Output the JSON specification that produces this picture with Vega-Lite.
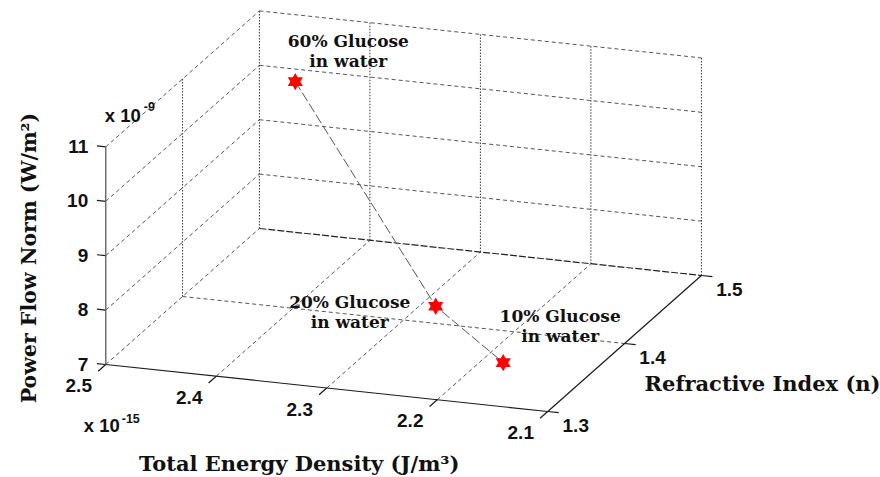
{
  "$schema": "https://vega.github.io/schema/vega-lite/v6.json",
  "width": 880,
  "height": 477,
  "autosize": {"type": "fit", "contains": "padding"},
  "padding": 0,
  "background": "white",
  "config": {"view": {"stroke": null}},
  "datasets": {
    "segments": [
      {"seg": "E axis", "kind": "axis", "E": 2.5, "n": 1.3, "P": 7, "E2": 2.1, "n2": 1.3, "P2": 7},
      {"seg": "n axis", "kind": "axis", "E": 2.1, "n": 1.3, "P": 7, "E2": 2.1, "n2": 1.5, "P2": 7},
      {"seg": "P axis", "kind": "paxis", "E": 2.5, "n": 1.3, "P": 7, "E2": 2.5, "n2": 1.3, "P2": 11},
      {"seg": "E tick 2.5", "kind": "tick", "E": 2.5, "n": 1.3, "P": 7, "E2": 2.5, "n2": 1.29, "P2": 7},
      {"seg": "E tick 2.4", "kind": "tick", "E": 2.4, "n": 1.3, "P": 7, "E2": 2.4, "n2": 1.29, "P2": 7},
      {"seg": "E tick 2.3", "kind": "tick", "E": 2.3, "n": 1.3, "P": 7, "E2": 2.3, "n2": 1.29, "P2": 7},
      {"seg": "E tick 2.2", "kind": "tick", "E": 2.2, "n": 1.3, "P": 7, "E2": 2.2, "n2": 1.29, "P2": 7},
      {"seg": "E tick 2.1", "kind": "tick", "E": 2.1, "n": 1.3, "P": 7, "E2": 2.1, "n2": 1.29, "P2": 7},
      {"seg": "n tick 1.3", "kind": "tick", "E": 2.1, "n": 1.3, "P": 7, "E2": 2.09, "n2": 1.3, "P2": 7},
      {"seg": "n tick 1.4", "kind": "tick", "E": 2.1, "n": 1.4, "P": 7, "E2": 2.09, "n2": 1.4, "P2": 7},
      {"seg": "n tick 1.5", "kind": "tick", "E": 2.1, "n": 1.5, "P": 7, "E2": 2.09, "n2": 1.5, "P2": 7},
      {"seg": "P tick 7", "kind": "tick", "E": 2.5, "n": 1.3, "P": 7, "E2": 2.508, "n2": 1.3, "P2": 7},
      {"seg": "P tick 8", "kind": "tick", "E": 2.5, "n": 1.3, "P": 8, "E2": 2.508, "n2": 1.3, "P2": 8},
      {"seg": "P tick 9", "kind": "tick", "E": 2.5, "n": 1.3, "P": 9, "E2": 2.508, "n2": 1.3, "P2": 9},
      {"seg": "P tick 10", "kind": "tick", "E": 2.5, "n": 1.3, "P": 10, "E2": 2.508, "n2": 1.3, "P2": 10},
      {"seg": "P tick 11", "kind": "tick", "E": 2.5, "n": 1.3, "P": 11, "E2": 2.508, "n2": 1.3, "P2": 11},
      {"seg": "floor back edge", "kind": "edge", "E": 2.5, "n": 1.5, "P": 7, "E2": 2.1, "n2": 1.5, "P2": 7},
      {"seg": "floor left edge", "kind": "dash", "E": 2.5, "n": 1.3, "P": 7, "E2": 2.5, "n2": 1.5, "P2": 7},
      {"seg": "floor E 2.4", "kind": "dash", "E": 2.4, "n": 1.3, "P": 7, "E2": 2.4, "n2": 1.5, "P2": 7},
      {"seg": "floor E 2.3", "kind": "dash", "E": 2.3, "n": 1.3, "P": 7, "E2": 2.3, "n2": 1.5, "P2": 7},
      {"seg": "floor E 2.2", "kind": "dash", "E": 2.2, "n": 1.3, "P": 7, "E2": 2.2, "n2": 1.5, "P2": 7},
      {"seg": "floor n 1.4", "kind": "dash", "E": 2.5, "n": 1.4, "P": 7, "E2": 2.1, "n2": 1.4, "P2": 7},
      {"seg": "back P 8", "kind": "dash", "E": 2.5, "n": 1.5, "P": 8, "E2": 2.1, "n2": 1.5, "P2": 8},
      {"seg": "back P 9", "kind": "dash", "E": 2.5, "n": 1.5, "P": 9, "E2": 2.1, "n2": 1.5, "P2": 9},
      {"seg": "back P 10", "kind": "dash", "E": 2.5, "n": 1.5, "P": 10, "E2": 2.1, "n2": 1.5, "P2": 10},
      {"seg": "back P 11", "kind": "dash", "E": 2.5, "n": 1.5, "P": 11, "E2": 2.1, "n2": 1.5, "P2": 11},
      {"seg": "left P 8", "kind": "dash", "E": 2.5, "n": 1.3, "P": 8, "E2": 2.5, "n2": 1.5, "P2": 8},
      {"seg": "left P 9", "kind": "dash", "E": 2.5, "n": 1.3, "P": 9, "E2": 2.5, "n2": 1.5, "P2": 9},
      {"seg": "left P 10", "kind": "dash", "E": 2.5, "n": 1.3, "P": 10, "E2": 2.5, "n2": 1.5, "P2": 10},
      {"seg": "left P 11", "kind": "dash", "E": 2.5, "n": 1.3, "P": 11, "E2": 2.5, "n2": 1.5, "P2": 11},
      {"seg": "back vertical 2.5", "kind": "dot", "E": 2.5, "n": 1.5, "P": 7, "E2": 2.5, "n2": 1.5, "P2": 11},
      {"seg": "back vertical 2.4", "kind": "dot", "E": 2.4, "n": 1.5, "P": 7, "E2": 2.4, "n2": 1.5, "P2": 11},
      {"seg": "back vertical 2.3", "kind": "dot", "E": 2.3, "n": 1.5, "P": 7, "E2": 2.3, "n2": 1.5, "P2": 11},
      {"seg": "back vertical 2.2", "kind": "dot", "E": 2.2, "n": 1.5, "P": 7, "E2": 2.2, "n2": 1.5, "P2": 11},
      {"seg": "back vertical 2.1", "kind": "dot", "E": 2.1, "n": 1.5, "P": 7, "E2": 2.1, "n2": 1.5, "P2": 11},
      {"seg": "left vertical 1.4", "kind": "dot", "E": 2.5, "n": 1.4, "P": 7, "E2": 2.5, "n2": 1.4, "P2": 11}
    ],
    "points": [
      {"solution": "60%", "label": "60% Glucose\nin water", "E": 2.4258, "n": 1.44, "P": 10.61, "order": 1},
      {"solution": "20%", "label": "20% Glucose\nin water", "E": 2.2459, "n": 1.364, "P": 7.82, "order": 2},
      {"solution": "10%", "label": "10% Glucose\nin water", "E": 2.1737, "n": 1.348, "P": 7.14, "order": 3}
    ],
    "ticklabels": [
      {"axis": "E", "E": 2.5, "n": 1.3, "P": 7, "label": "2.5"},
      {"axis": "E", "E": 2.4, "n": 1.3, "P": 7, "label": "2.4"},
      {"axis": "E", "E": 2.3, "n": 1.3, "P": 7, "label": "2.3"},
      {"axis": "E", "E": 2.2, "n": 1.3, "P": 7, "label": "2.2"},
      {"axis": "E", "E": 2.1, "n": 1.3, "P": 7, "label": "2.1"},
      {"axis": "n", "E": 2.1, "n": 1.3, "P": 7, "label": "1.3"},
      {"axis": "n", "E": 2.1, "n": 1.4, "P": 7, "label": "1.4"},
      {"axis": "n", "E": 2.1, "n": 1.5, "P": 7, "label": "1.5"},
      {"axis": "P", "E": 2.5, "n": 1.3, "P": 7, "label": "7"},
      {"axis": "P", "E": 2.5, "n": 1.3, "P": 8, "label": "8"},
      {"axis": "P", "E": 2.5, "n": 1.3, "P": 9, "label": "9"},
      {"axis": "P", "E": 2.5, "n": 1.3, "P": 10, "label": "10"},
      {"axis": "P", "E": 2.5, "n": 1.3, "P": 11, "label": "11"}
    ],
    "multipliers": [
      {"axis": "P", "E": 2.5, "n": 1.3, "P": 11.55, "base": "x 10", "exp": "-9"},
      {"axis": "E", "E": 2.5, "n": 1.3, "P": 7, "base": "x 10", "exp": "-15"}
    ],
    "titles": [
      {"axis": "E", "E": 2.3, "n": 1.3, "P": 7, "title": "Total Energy Density (J/m³)"},
      {"axis": "n", "E": 2.1, "n": 1.4, "P": 7, "title": "Refractive Index (n)"},
      {"axis": "P", "E": 2.5, "n": 1.3, "P": 9, "title": "Power Flow Norm (W/m²)"}
    ]
  },
  "layer": [
    {
      "data": {"name": "segments"},
      "transform": [
        {"filter": "datum.kind === 'dash'"},
        {"calculate": "106 + 1107.5*(2.5-datum.E) + 770*(datum.n-1.3)", "as": "sx"},
        {"calculate": "364.5 + 117.5*(2.5-datum.E) - 680*(datum.n-1.3) - 54.4*(datum.P-7)", "as": "sy"},
        {"calculate": "106 + 1107.5*(2.5-datum.E2) + 770*(datum.n2-1.3)", "as": "sx2"},
        {"calculate": "364.5 + 117.5*(2.5-datum.E2) - 680*(datum.n2-1.3) - 54.4*(datum.P2-7)", "as": "sy2"}
      ],
      "mark": {"type": "rule", "color": "#555555", "strokeWidth": 1, "strokeDash": [4, 3]},
      "encoding": {
        "x": {"field": "sx", "type": "quantitative", "scale": {"domain": [0, 880], "nice": false, "zero": false}, "axis": null},
        "y": {"field": "sy", "type": "quantitative", "scale": {"domain": [0, 477], "nice": false, "zero": false, "reverse": true}, "axis": null},
        "x2": {"field": "sx2"},
        "y2": {"field": "sy2"}
      }
    },
    {
      "data": {"name": "segments"},
      "transform": [
        {"filter": "datum.kind === 'edge'"},
        {"calculate": "106 + 1107.5*(2.5-datum.E) + 770*(datum.n-1.3)", "as": "sx"},
        {"calculate": "364.5 + 117.5*(2.5-datum.E) - 680*(datum.n-1.3) - 54.4*(datum.P-7)", "as": "sy"},
        {"calculate": "106 + 1107.5*(2.5-datum.E2) + 770*(datum.n2-1.3)", "as": "sx2"},
        {"calculate": "364.5 + 117.5*(2.5-datum.E2) - 680*(datum.n2-1.3) - 54.4*(datum.P2-7)", "as": "sy2"}
      ],
      "mark": {"type": "rule", "color": "#222222", "strokeWidth": 1.2, "strokeDash": [7, 2]},
      "encoding": {
        "x": {"field": "sx", "type": "quantitative", "scale": {"domain": [0, 880], "nice": false, "zero": false}, "axis": null},
        "y": {"field": "sy", "type": "quantitative", "scale": {"domain": [0, 477], "nice": false, "zero": false, "reverse": true}, "axis": null},
        "x2": {"field": "sx2"},
        "y2": {"field": "sy2"}
      }
    },
    {
      "data": {"name": "segments"},
      "transform": [
        {"filter": "datum.kind === 'dot'"},
        {"calculate": "106 + 1107.5*(2.5-datum.E) + 770*(datum.n-1.3)", "as": "sx"},
        {"calculate": "364.5 + 117.5*(2.5-datum.E) - 680*(datum.n-1.3) - 54.4*(datum.P-7)", "as": "sy"},
        {"calculate": "106 + 1107.5*(2.5-datum.E2) + 770*(datum.n2-1.3)", "as": "sx2"},
        {"calculate": "364.5 + 117.5*(2.5-datum.E2) - 680*(datum.n2-1.3) - 54.4*(datum.P2-7)", "as": "sy2"}
      ],
      "mark": {"type": "rule", "color": "#333333", "strokeWidth": 1, "strokeDash": [1.5, 1.5]},
      "encoding": {
        "x": {"field": "sx", "type": "quantitative", "scale": {"domain": [0, 880], "nice": false, "zero": false}, "axis": null},
        "y": {"field": "sy", "type": "quantitative", "scale": {"domain": [0, 477], "nice": false, "zero": false, "reverse": true}, "axis": null},
        "x2": {"field": "sx2"},
        "y2": {"field": "sy2"}
      }
    },
    {
      "data": {"name": "segments"},
      "transform": [
        {"filter": "datum.kind === 'axis' || datum.kind === 'tick'"},
        {"calculate": "106 + 1107.5*(2.5-datum.E) + 770*(datum.n-1.3)", "as": "sx"},
        {"calculate": "364.5 + 117.5*(2.5-datum.E) - 680*(datum.n-1.3) - 54.4*(datum.P-7)", "as": "sy"},
        {"calculate": "106 + 1107.5*(2.5-datum.E2) + 770*(datum.n2-1.3)", "as": "sx2"},
        {"calculate": "364.5 + 117.5*(2.5-datum.E2) - 680*(datum.n2-1.3) - 54.4*(datum.P2-7)", "as": "sy2"}
      ],
      "mark": {"type": "rule", "color": "#1a1a1a", "strokeWidth": 1.2},
      "encoding": {
        "x": {"field": "sx", "type": "quantitative", "scale": {"domain": [0, 880], "nice": false, "zero": false}, "axis": null},
        "y": {"field": "sy", "type": "quantitative", "scale": {"domain": [0, 477], "nice": false, "zero": false, "reverse": true}, "axis": null},
        "x2": {"field": "sx2"},
        "y2": {"field": "sy2"}
      }
    },
    {
      "data": {"name": "segments"},
      "transform": [
        {"filter": "datum.kind === 'paxis'"},
        {"calculate": "106 + 1107.5*(2.5-datum.E) + 770*(datum.n-1.3)", "as": "sx"},
        {"calculate": "364.5 + 117.5*(2.5-datum.E) - 680*(datum.n-1.3) - 54.4*(datum.P-7)", "as": "sy"},
        {"calculate": "106 + 1107.5*(2.5-datum.E2) + 770*(datum.n2-1.3)", "as": "sx2"},
        {"calculate": "364.5 + 117.5*(2.5-datum.E2) - 680*(datum.n2-1.3) - 54.4*(datum.P2-7)", "as": "sy2"}
      ],
      "mark": {"type": "rule", "color": "#666666", "strokeWidth": 1.4},
      "encoding": {
        "x": {"field": "sx", "type": "quantitative", "scale": {"domain": [0, 880], "nice": false, "zero": false}, "axis": null},
        "y": {"field": "sy", "type": "quantitative", "scale": {"domain": [0, 477], "nice": false, "zero": false, "reverse": true}, "axis": null},
        "x2": {"field": "sx2"},
        "y2": {"field": "sy2"}
      }
    },
    {
      "data": {"name": "points"},
      "transform": [
        {"calculate": "106 + 1107.5*(2.5-datum.E) + 770*(datum.n-1.3)", "as": "sx"},
        {"calculate": "364.5 + 117.5*(2.5-datum.E) - 680*(datum.n-1.3) - 54.4*(datum.P-7)", "as": "sy"}
      ],
      "mark": {"type": "line", "color": "#555555", "strokeWidth": 1, "strokeDash": [10, 3]},
      "encoding": {
        "x": {"field": "sx", "type": "quantitative", "scale": {"domain": [0, 880], "nice": false, "zero": false}, "axis": null},
        "y": {"field": "sy", "type": "quantitative", "scale": {"domain": [0, 477], "nice": false, "zero": false, "reverse": true}, "axis": null},
        "order": {"field": "order", "type": "quantitative"}
      }
    },
    {
      "data": {"name": "points"},
      "transform": [
        {"calculate": "106 + 1107.5*(2.5-datum.E) + 770*(datum.n-1.3)", "as": "sx"},
        {"calculate": "364.5 + 117.5*(2.5-datum.E) - 680*(datum.n-1.3) - 54.4*(datum.P-7)", "as": "sy"}
      ],
      "mark": {"type": "point", "shape": "M0,-1L0.866,0.5L-0.866,0.5Z M0,1L-0.866,-0.5L0.866,-0.5Z", "filled": true, "color": "#ff0000", "size": 300, "opacity": 1, "strokeWidth": 0},
      "encoding": {
        "x": {"field": "sx", "type": "quantitative", "scale": {"domain": [0, 880], "nice": false, "zero": false}, "axis": null},
        "y": {"field": "sy", "type": "quantitative", "scale": {"domain": [0, 477], "nice": false, "zero": false, "reverse": true}, "axis": null}
      }
    },
    {
      "data": {"name": "points"},
      "transform": [
        {"filter": "datum.solution === '60%'"},
        {"calculate": "106 + 1107.5*(2.5-datum.E) + 770*(datum.n-1.3)", "as": "sx"},
        {"calculate": "364.5 + 117.5*(2.5-datum.E) - 680*(datum.n-1.3) - 54.4*(datum.P-7)", "as": "sy"}
      ],
      "mark": {"type": "text", "font": "DejaVu Serif", "fontWeight": "bold", "fontSize": 17, "color": "#111111", "align": "center", "baseline": "middle", "lineBreak": "\n", "lineHeight": 20, "dx": 53, "dy": -40},
      "encoding": {
        "x": {"field": "sx", "type": "quantitative", "scale": {"domain": [0, 880], "nice": false, "zero": false}, "axis": null},
        "y": {"field": "sy", "type": "quantitative", "scale": {"domain": [0, 477], "nice": false, "zero": false, "reverse": true}, "axis": null},
        "text": {"field": "label"}
      }
    },
    {
      "data": {"name": "points"},
      "transform": [
        {"filter": "datum.solution === '20%'"},
        {"calculate": "106 + 1107.5*(2.5-datum.E) + 770*(datum.n-1.3)", "as": "sx"},
        {"calculate": "364.5 + 117.5*(2.5-datum.E) - 680*(datum.n-1.3) - 54.4*(datum.P-7)", "as": "sy"}
      ],
      "mark": {"type": "text", "font": "DejaVu Serif", "fontWeight": "bold", "fontSize": 17, "color": "#111111", "align": "center", "baseline": "middle", "lineBreak": "\n", "lineHeight": 20, "dx": -86, "dy": -3.3},
      "encoding": {
        "x": {"field": "sx", "type": "quantitative", "scale": {"domain": [0, 880], "nice": false, "zero": false}, "axis": null},
        "y": {"field": "sy", "type": "quantitative", "scale": {"domain": [0, 477], "nice": false, "zero": false, "reverse": true}, "axis": null},
        "text": {"field": "label"}
      }
    },
    {
      "data": {"name": "points"},
      "transform": [
        {"filter": "datum.solution === '10%'"},
        {"calculate": "106 + 1107.5*(2.5-datum.E) + 770*(datum.n-1.3)", "as": "sx"},
        {"calculate": "364.5 + 117.5*(2.5-datum.E) - 680*(datum.n-1.3) - 54.4*(datum.P-7)", "as": "sy"}
      ],
      "mark": {"type": "text", "font": "DejaVu Serif", "fontWeight": "bold", "fontSize": 17, "color": "#111111", "align": "center", "baseline": "middle", "lineBreak": "\n", "lineHeight": 20, "dx": 57, "dy": -46},
      "encoding": {
        "x": {"field": "sx", "type": "quantitative", "scale": {"domain": [0, 880], "nice": false, "zero": false}, "axis": null},
        "y": {"field": "sy", "type": "quantitative", "scale": {"domain": [0, 477], "nice": false, "zero": false, "reverse": true}, "axis": null},
        "text": {"field": "label"}
      }
    },
    {
      "data": {"name": "ticklabels"},
      "transform": [
        {"filter": "datum.axis === 'E'"},
        {"calculate": "106 + 1107.5*(2.5-datum.E) + 770*(datum.n-1.3)", "as": "sx"},
        {"calculate": "364.5 + 117.5*(2.5-datum.E) - 680*(datum.n-1.3) - 54.4*(datum.P-7)", "as": "sy"}
      ],
      "mark": {"type": "text", "font": "Liberation Sans", "fontWeight": "bold", "fontSize": 19, "color": "#111111", "align": "center", "baseline": "middle", "dx": -27, "dy": 21.7},
      "encoding": {
        "x": {"field": "sx", "type": "quantitative", "scale": {"domain": [0, 880], "nice": false, "zero": false}, "axis": null},
        "y": {"field": "sy", "type": "quantitative", "scale": {"domain": [0, 477], "nice": false, "zero": false, "reverse": true}, "axis": null},
        "text": {"field": "label"}
      }
    },
    {
      "data": {"name": "ticklabels"},
      "transform": [
        {"filter": "datum.axis === 'n'"},
        {"calculate": "106 + 1107.5*(2.5-datum.E) + 770*(datum.n-1.3)", "as": "sx"},
        {"calculate": "364.5 + 117.5*(2.5-datum.E) - 680*(datum.n-1.3) - 54.4*(datum.P-7)", "as": "sy"}
      ],
      "mark": {"type": "text", "font": "Liberation Sans", "fontWeight": "bold", "fontSize": 19, "color": "#111111", "align": "center", "baseline": "middle", "dx": 28, "dy": 14},
      "encoding": {
        "x": {"field": "sx", "type": "quantitative", "scale": {"domain": [0, 880], "nice": false, "zero": false}, "axis": null},
        "y": {"field": "sy", "type": "quantitative", "scale": {"domain": [0, 477], "nice": false, "zero": false, "reverse": true}, "axis": null},
        "text": {"field": "label"}
      }
    },
    {
      "data": {"name": "ticklabels"},
      "transform": [
        {"filter": "datum.axis === 'P'"},
        {"calculate": "106 + 1107.5*(2.5-datum.E) + 770*(datum.n-1.3)", "as": "sx"},
        {"calculate": "364.5 + 117.5*(2.5-datum.E) - 680*(datum.n-1.3) - 54.4*(datum.P-7)", "as": "sy"}
      ],
      "mark": {"type": "text", "font": "Liberation Sans", "fontWeight": "bold", "fontSize": 19, "color": "#111111", "align": "right", "baseline": "middle", "dx": -17.5, "dy": 0},
      "encoding": {
        "x": {"field": "sx", "type": "quantitative", "scale": {"domain": [0, 880], "nice": false, "zero": false}, "axis": null},
        "y": {"field": "sy", "type": "quantitative", "scale": {"domain": [0, 477], "nice": false, "zero": false, "reverse": true}, "axis": null},
        "text": {"field": "label"}
      }
    },
    {
      "data": {"name": "multipliers"},
      "transform": [
        {"filter": "datum.axis === 'P'"},
        {"calculate": "106 + 1107.5*(2.5-datum.E) + 770*(datum.n-1.3)", "as": "sx"},
        {"calculate": "364.5 + 117.5*(2.5-datum.E) - 680*(datum.n-1.3) - 54.4*(datum.P-7)", "as": "sy"}
      ],
      "mark": {"type": "text", "font": "Liberation Sans", "fontWeight": "bold", "fontSize": 18.5, "color": "#111111", "align": "left", "baseline": "middle", "dx": -1, "dy": -1},
      "encoding": {
        "x": {"field": "sx", "type": "quantitative", "scale": {"domain": [0, 880], "nice": false, "zero": false}, "axis": null},
        "y": {"field": "sy", "type": "quantitative", "scale": {"domain": [0, 477], "nice": false, "zero": false, "reverse": true}, "axis": null},
        "text": {"field": "base"}
      }
    },
    {
      "data": {"name": "multipliers"},
      "transform": [
        {"filter": "datum.axis === 'P'"},
        {"calculate": "106 + 1107.5*(2.5-datum.E) + 770*(datum.n-1.3)", "as": "sx"},
        {"calculate": "364.5 + 117.5*(2.5-datum.E) - 680*(datum.n-1.3) - 54.4*(datum.P-7)", "as": "sy"}
      ],
      "mark": {"type": "text", "font": "Liberation Sans", "fontWeight": "bold", "fontSize": 12.5, "color": "#111111", "align": "left", "baseline": "middle", "dx": 38, "dy": -10},
      "encoding": {
        "x": {"field": "sx", "type": "quantitative", "scale": {"domain": [0, 880], "nice": false, "zero": false}, "axis": null},
        "y": {"field": "sy", "type": "quantitative", "scale": {"domain": [0, 477], "nice": false, "zero": false, "reverse": true}, "axis": null},
        "text": {"field": "exp"}
      }
    },
    {
      "data": {"name": "multipliers"},
      "transform": [
        {"filter": "datum.axis === 'E'"},
        {"calculate": "106 + 1107.5*(2.5-datum.E) + 770*(datum.n-1.3)", "as": "sx"},
        {"calculate": "364.5 + 117.5*(2.5-datum.E) - 680*(datum.n-1.3) - 54.4*(datum.P-7)", "as": "sy"}
      ],
      "mark": {"type": "text", "font": "Liberation Sans", "fontWeight": "bold", "fontSize": 18.5, "color": "#111111", "align": "left", "baseline": "middle", "dx": -22, "dy": 61.5},
      "encoding": {
        "x": {"field": "sx", "type": "quantitative", "scale": {"domain": [0, 880], "nice": false, "zero": false}, "axis": null},
        "y": {"field": "sy", "type": "quantitative", "scale": {"domain": [0, 477], "nice": false, "zero": false, "reverse": true}, "axis": null},
        "text": {"field": "base"}
      }
    },
    {
      "data": {"name": "multipliers"},
      "transform": [
        {"filter": "datum.axis === 'E'"},
        {"calculate": "106 + 1107.5*(2.5-datum.E) + 770*(datum.n-1.3)", "as": "sx"},
        {"calculate": "364.5 + 117.5*(2.5-datum.E) - 680*(datum.n-1.3) - 54.4*(datum.P-7)", "as": "sy"}
      ],
      "mark": {"type": "text", "font": "Liberation Sans", "fontWeight": "bold", "fontSize": 12.5, "color": "#111111", "align": "left", "baseline": "middle", "dx": 16, "dy": 54},
      "encoding": {
        "x": {"field": "sx", "type": "quantitative", "scale": {"domain": [0, 880], "nice": false, "zero": false}, "axis": null},
        "y": {"field": "sy", "type": "quantitative", "scale": {"domain": [0, 477], "nice": false, "zero": false, "reverse": true}, "axis": null},
        "text": {"field": "exp"}
      }
    },
    {
      "data": {"name": "titles"},
      "transform": [
        {"filter": "datum.axis === 'E'"},
        {"calculate": "106 + 1107.5*(2.5-datum.E) + 770*(datum.n-1.3)", "as": "sx"},
        {"calculate": "364.5 + 117.5*(2.5-datum.E) - 680*(datum.n-1.3) - 54.4*(datum.P-7)", "as": "sy"}
      ],
      "mark": {"type": "text", "font": "DejaVu Serif", "fontWeight": "bold", "fontSize": 21, "color": "#111111", "align": "center", "baseline": "middle", "dx": -27.5, "dy": 77},
      "encoding": {
        "x": {"field": "sx", "type": "quantitative", "scale": {"domain": [0, 880], "nice": false, "zero": false}, "axis": null},
        "y": {"field": "sy", "type": "quantitative", "scale": {"domain": [0, 477], "nice": false, "zero": false, "reverse": true}, "axis": null},
        "text": {"field": "title"}
      }
    },
    {
      "data": {"name": "titles"},
      "transform": [
        {"filter": "datum.axis === 'n'"},
        {"calculate": "106 + 1107.5*(2.5-datum.E) + 770*(datum.n-1.3)", "as": "sx"},
        {"calculate": "364.5 + 117.5*(2.5-datum.E) - 680*(datum.n-1.3) - 54.4*(datum.P-7)", "as": "sy"}
      ],
      "mark": {"type": "text", "font": "DejaVu Serif", "fontWeight": "bold", "fontSize": 21, "color": "#111111", "align": "left", "baseline": "middle", "dx": 20, "dy": 41.5},
      "encoding": {
        "x": {"field": "sx", "type": "quantitative", "scale": {"domain": [0, 880], "nice": false, "zero": false}, "axis": null},
        "y": {"field": "sy", "type": "quantitative", "scale": {"domain": [0, 477], "nice": false, "zero": false, "reverse": true}, "axis": null},
        "text": {"field": "title"}
      }
    },
    {
      "data": {"name": "titles"},
      "transform": [
        {"filter": "datum.axis === 'P'"},
        {"calculate": "106 + 1107.5*(2.5-datum.E) + 770*(datum.n-1.3)", "as": "sx"},
        {"calculate": "364.5 + 117.5*(2.5-datum.E) - 680*(datum.n-1.3) - 54.4*(datum.P-7)", "as": "sy"}
      ],
      "mark": {"type": "text", "font": "DejaVu Serif", "fontWeight": "bold", "fontSize": 20.5, "color": "#111111", "align": "center", "baseline": "middle", "angle": 270, "dx": -2.3, "dy": -76},
      "encoding": {
        "x": {"field": "sx", "type": "quantitative", "scale": {"domain": [0, 880], "nice": false, "zero": false}, "axis": null},
        "y": {"field": "sy", "type": "quantitative", "scale": {"domain": [0, 477], "nice": false, "zero": false, "reverse": true}, "axis": null},
        "text": {"field": "title"}
      }
    }
  ]
}
